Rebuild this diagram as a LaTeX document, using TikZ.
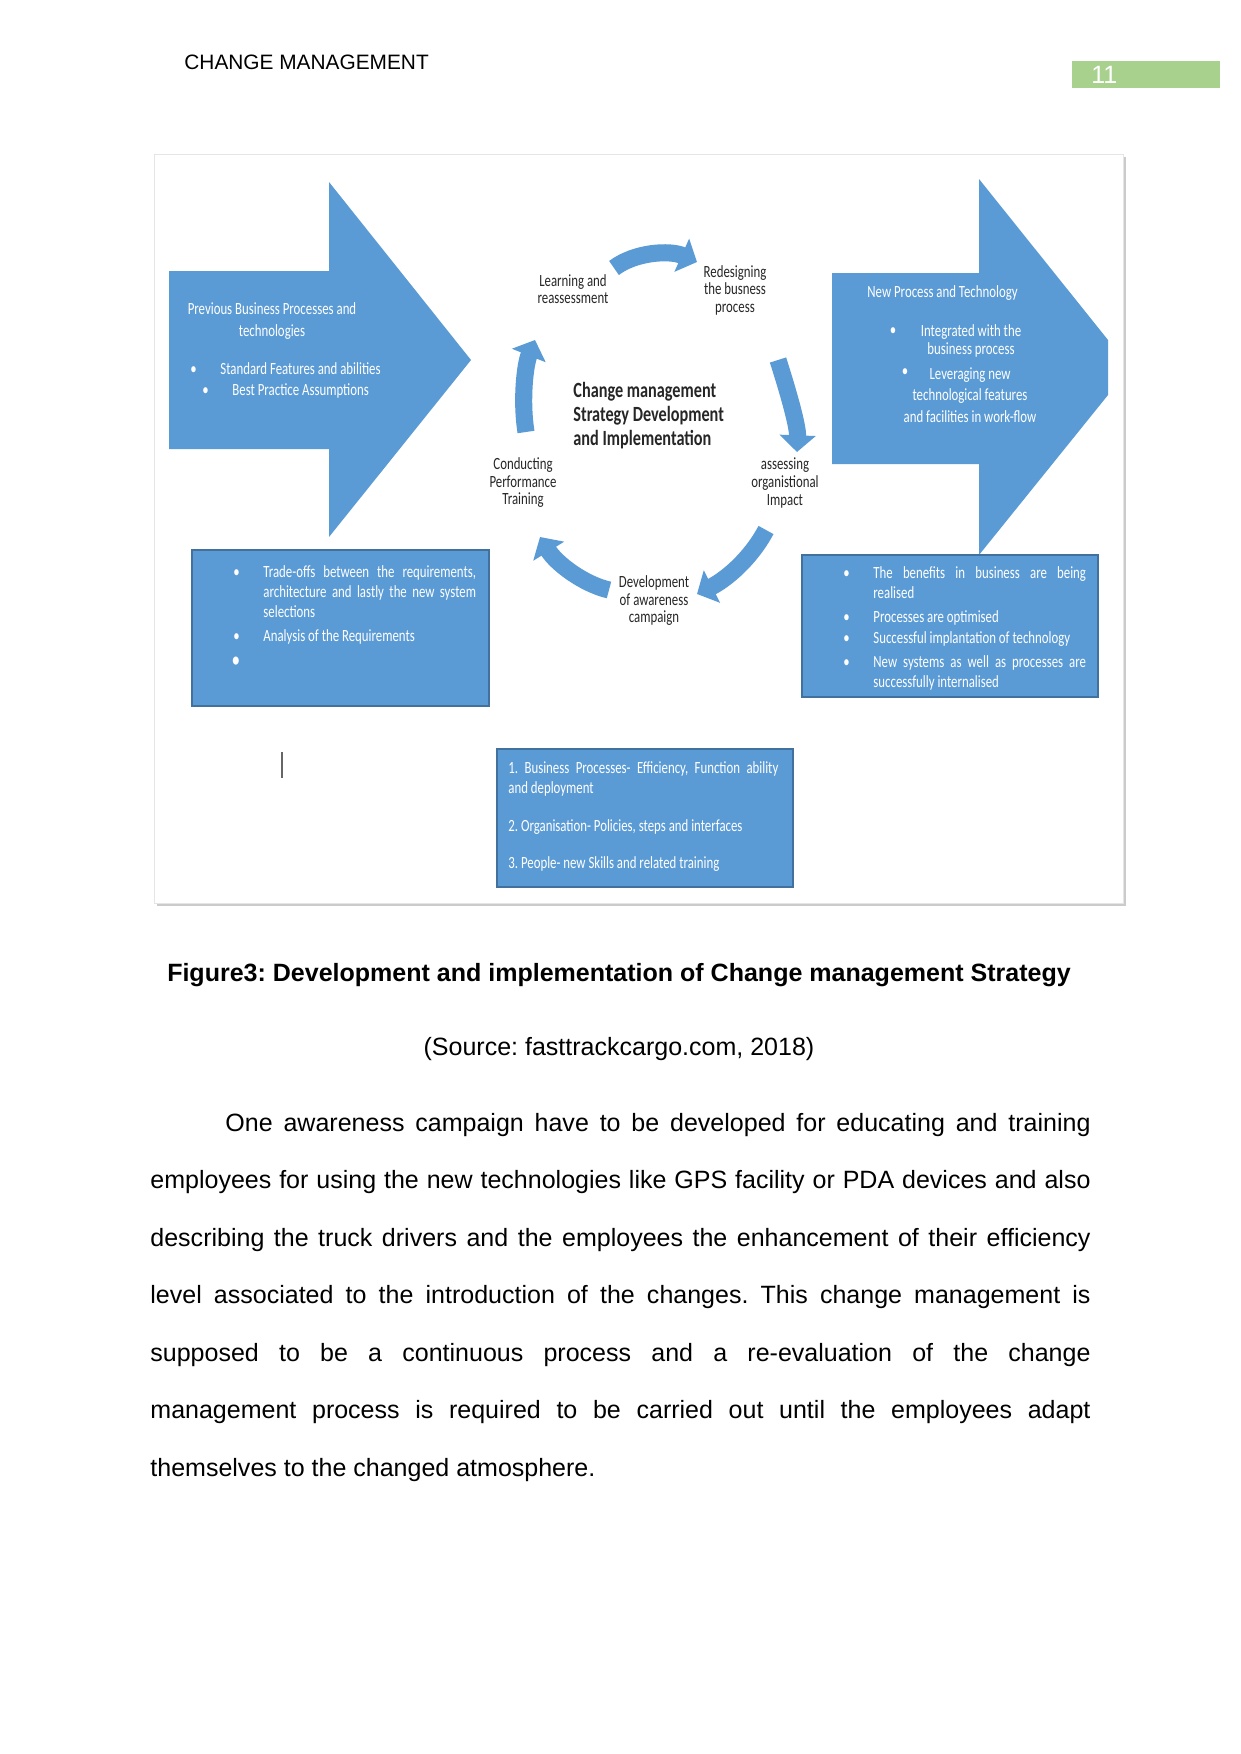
\documentclass[tikz,border=0pt]{standalone}
\usepackage{fontspec}
\setmainfont{Liberation Sans}
\newfontfamily\calfont[FakeStretch=0.75]{Carlito}
\usepackage{tikz}
\usetikzlibrary{arrows.meta, positioning, shadows}
\definecolor{ink}{HTML}{262626}
\definecolor{arrowblue}{HTML}{5B9BD5}
\definecolor{edgeblue}{HTML}{41719C}
\definecolor{pagegreen}{HTML}{A9D18E}
\newcommand{\labelfont}{\calfont\fontsize{8.2}{8.4}\selectfont}
\newcommand{\boxfont}{\calfont\fontsize{8.2}{9.8}\selectfont}
\frenchspacing

\begin{document}
\begin{tikzpicture}[
  x=0.4797pt, y=-0.4797pt,
  bigarrow/.style={fill=arrowblue, draw=none},
  bulletbox/.style={fill=arrowblue, draw=edgeblue, line width=0.8pt},
  cyclelabel/.style={font=\labelfont, text=ink, align=center, inner sep=0pt},
  whitetext/.style={font=\boxfont, text=white, inner sep=0pt},
  boxpara/.style={whitetext, anchor=base west, text width=102pt, align=justify},
  bulletmark/.style={whitetext},
  cyclearrow/.style={draw=arrowblue, line width=8.2pt, -{Triangle[length=8pt, width=17pt]}},
  >={Latex[length=2.2mm]}
]
\fill[white] (0,0) rectangle (1241,1754);
\useasboundingbox (0,0) rectangle (1241,1754);

% page head
\node[anchor=base west, inner sep=0pt, font=\fontsize{10}{12}\selectfont] (header) at (184,70) {CHANGE MANAGEMENT};
\fill[pagegreen] (1072,61) rectangle (1220,88);
\node[anchor=base west, inner sep=0pt, text=white, font=\fontsize{12}{14}\selectfont] (pagenum) at (1091,84) {11};

% figure
\filldraw[fill=white, draw=black!10, drop shadow={shadow xshift=1.5pt, shadow yshift=-1.5pt, fill=black!40, opacity=0.5}] (154,154) rectangle (1123,903);

\fill[bigarrow] (169,271) -- (329,271) -- (329,182) -- (471,360) -- (329,537) -- (329,449) -- (169,449) -- cycle;
\fill[bigarrow] (832,273) -- (979,273) -- (979,179) -- (1108,340) -- (1108,395) -- (979,555) -- (979,464) -- (832,464) -- cycle;

\draw[bulletbox] (192,550) rectangle (489,706);
\draw[bulletbox] (802,555) rectangle (1098,697);
\draw[bulletbox] (497,749) rectangle (793,887);
\draw[black!60, line width=0.5pt] (282,752) -- (282,778);

\node[whitetext, align=center, font=\calfont\fontsize{8.2}{10.5}\selectfont] (prevhead) at (272,321) {Previous Business Processes and\\technologies};
\node[whitetext, anchor=base west] (standard) at (220,374) {Standard Features and abilities};
\node[bulletmark, base left=11pt of standard] (standarddot) {\textbullet};
\node[whitetext, anchor=base west] (bestpractice) at (232,395) {Best Practice Assumptions};
\node[bulletmark, base left=11pt of bestpractice] (bestdot) {\textbullet};

\node[whitetext, anchor=base west] (newhead) at (867,297) {New Process and Technology};
\node[whitetext, align=center, font=\calfont\fontsize{8.2}{8.6}\selectfont] (integrated) at (971,341) {Integrated with the\\business process};
\node[bulletmark] (integrateddot) at (893,332) {\textbullet};
\node[whitetext, align=center, font=\calfont\fontsize{8.2}{10.3}\selectfont] (leveraging) at (970,395) {Leveraging new\\technological features\\and facilities in work-flow};
\node[bulletmark] (leveragingdot) at (905,373) {\textbullet};

\node[boxpara] (tradeoff) at (263,577) {Trade-offs between the requirements,\linebreak architecture and lastly the new system\linebreak selections};
\node[bulletmark, base left=11pt of tradeoff] (tradeoffdot) {\textbullet};
\node[boxpara] (analysis) at (263,641) {Analysis of the Requirements};
\node[bulletmark, base left=11pt of analysis] (analysisdot) {\textbullet};
\node[bulletmark, font=\calfont\fontsize{11}{12}\selectfont] (emptydot) at (236,662) {\textbullet};

\node[boxpara] (benefits) at (873,578) {The benefits in business are being\linebreak realised};
\node[bulletmark, base left=11pt of benefits] (benefitsdot) {\textbullet};
\node[boxpara] (optimised) at (873,622) {Processes are optimised};
\node[bulletmark, base left=11pt of optimised] (optimiseddot) {\textbullet};
\node[boxpara] (implant) at (873,643) {Successful implantation of technology};
\node[bulletmark, base left=11pt of implant] (implantdot) {\textbullet};
\node[boxpara] (internal) at (873,667) {New systems as well as processes are\linebreak successfully internalised};
\node[bulletmark, base left=11pt of internal] (internaldot) {\textbullet};

\node[boxpara, text width=129.5pt] (process) at (508,773) {1. Business Processes- Efficiency, Function ability\linebreak and deployment};
\node[boxpara, text width=129.5pt] (organisation) at (508,831) {2. Organisation- Policies, steps and interfaces};
\node[boxpara, text width=129.5pt] (people) at (508,868) {3. People- new Skills and related training};

% cycle
\node[cyclelabel] (learning) at (573,289) {Learning and\\reassessment};
\node[cyclelabel] (redesign) at (735,290) {Redesigning\\the busness\\process};
\node[cyclelabel] (assess) at (785,483) {assessing\\organistional\\Impact};
\node[cyclelabel] (awareness) at (654,601) {Development\\of awareness\\campaign};
\node[cyclelabel] (conducting) at (523,483) {Conducting\\Performance\\Training};
\node[cyclelabel, anchor=west, align=left, font=\calfont\bfseries\fontsize{10.4}{11.5}\selectfont] (strategy) at (573,416) {Change management\\Strategy Development\\and Implementation};

\coordinate (topS) at (614,268);   \coordinate (topE) at (697,262);
\coordinate (rightS) at (778,360); \coordinate (rightE) at (797,452);
\coordinate (lowrS) at (766,530);  \coordinate (lowrE) at (697,594);
\coordinate (lowlS) at (609,590);  \coordinate (lowlE) at (540,537);
\coordinate (leftS) at (526,432);  \coordinate (leftE) at (535,340);

\draw[cyclearrow] (topS) .. controls (635,252) and (670,250) .. (topE);
\draw[cyclearrow] (rightS) .. controls (786,385) and (798,425) .. (rightE);
\draw[cyclearrow] (lowrS) .. controls (750,560) and (725,580) .. (lowrE);
\draw[cyclearrow] (lowlS) .. controls (583,584) and (556,563) .. (lowlE);
\draw[cyclearrow] (leftS) .. controls (521,400) and (525,365) .. (leftE);

% caption and text
\node[anchor=base, inner sep=0pt, font=\bfseries\fontsize{12}{14}\selectfont] (caption) at (619,981) {Figure3: Development and implementation of Change management Strategy};
\node[anchor=base, inner sep=0pt, font=\fontsize{12}{14}\selectfont] (source) at (619,1055) {(Source: fasttrackcargo.com, 2018)};
\node[anchor=base west, inner sep=0pt, text width=451pt, align=justify, font=\fontsize{12}{27.6}\selectfont] (body) at (150,1131) {\hyphenpenalty=10000\exhyphenpenalty=10000\hspace*{36pt}One awareness campaign have to be developed for educating and training\linebreak employees for using the new technologies like GPS facility or PDA devices and also\linebreak describing the truck drivers and the employees the enhancement of their efficiency\linebreak level associated to the introduction of the changes. This change management is\linebreak supposed to be a continuous process and a re-evaluation of the change\linebreak management process is required to be carried out until the employees adapt\linebreak themselves to the changed atmosphere.};
\end{tikzpicture}
\end{document}
